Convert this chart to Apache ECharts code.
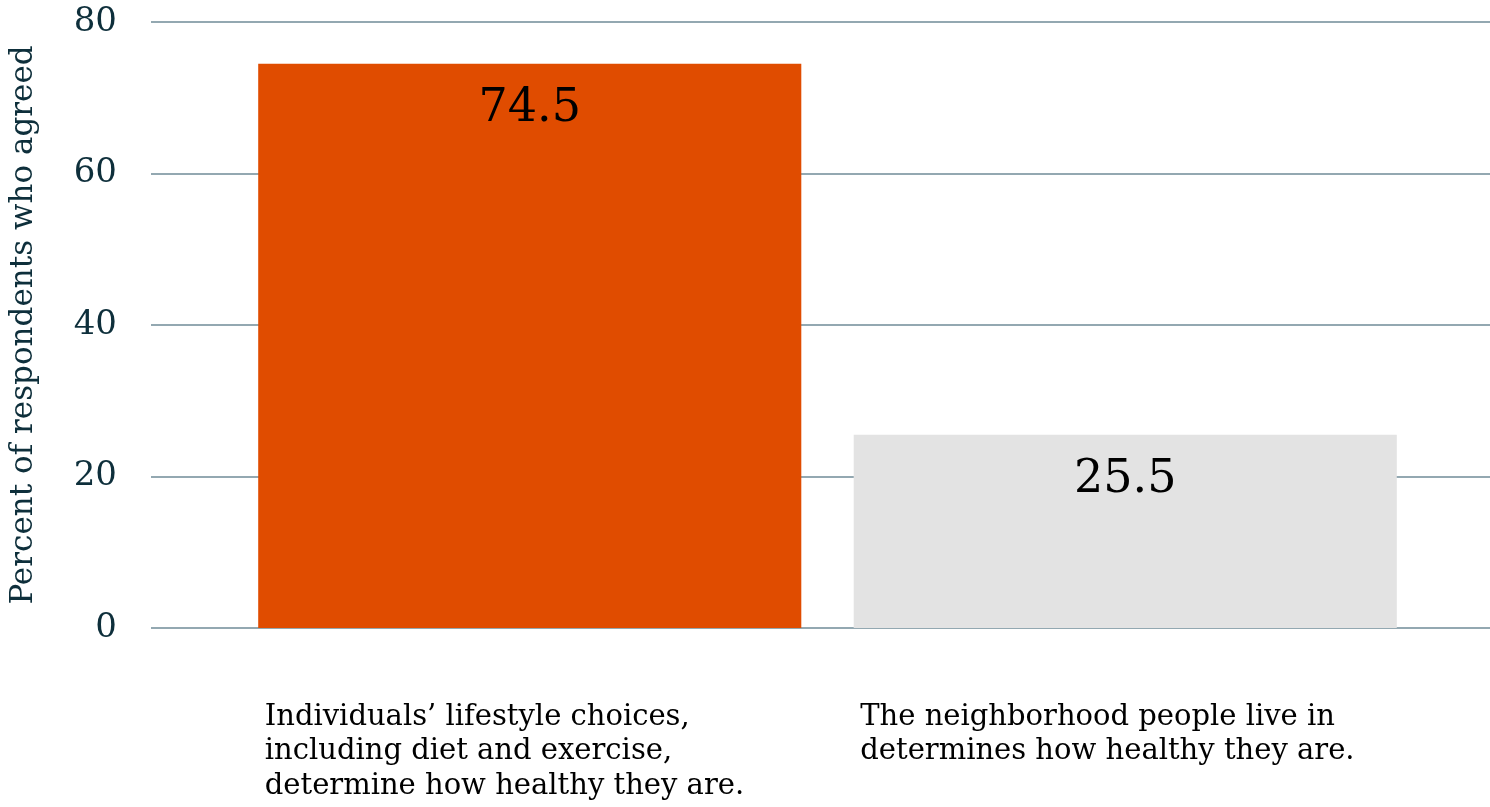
<!DOCTYPE html>
<html>
<head>
<meta charset="utf-8">
<script src="https://cdn.jsdelivr.net/npm/echarts@6/dist/echarts.min.js"></script>
<style>
  html, body { margin: 0; padding: 0; background: #fff; }
  #chart { width: 1490px; height: 807px; }
</style>
</head>
<body>
<div id="chart"></div>
<script>
// data
var categories = [
  "Individuals\u2019 lifestyle choices,\nincluding diet and exercise,\ndetermine how healthy they are.",
  "The neighborhood people live in\ndetermines how healthy they are."
];
var values = [74.5, 25.5];
var barColors = ["#e04c00", "#e3e3e3"];
var yTicks = [0, 20, 40, 60, 80];

var fontFam = "DejaVu Serif";
var inkColor = "#0e2f3b";

var chart = echarts.init(document.getElementById("chart"));

var option = {
  animation: false,
  grid: [
    // grid used only for the y axis and its lines across the full width
    { left: 150, right: 0, top: 22, bottom: 179 },
    // grid holding the bars
    { left: 232, right: 67, top: 22, bottom: 179 }
  ],
  xAxis: [
    { gridIndex: 0, type: "value", min: 0, max: 1, show: false },
    {
      gridIndex: 1,
      type: "category",
      data: categories,
      axisLine: { show: false },
      axisTick: { show: false },
      axisLabel: {
        margin: 72,
        interval: 0,
        formatter: function (v) {
          return v.split("\n").map(function (s) { return "{a|" + s + "}"; }).join("\n");
        },
        rich: {
          a: {
            width: 530,
            align: "left",
            fontFamily: fontFam,
            fontSize: 29,
            lineHeight: 34.5,
            color: "#000"
          }
        }
      }
    }
  ],
  yAxis: [
    {
      gridIndex: 0,
      type: "value",
      min: yTicks[0],
      max: yTicks[yTicks.length - 1],
      interval: 20,
      name: "Percent of respondents who agreed",
      nameLocation: "middle",
      nameGap: 112,
      nameTextStyle: { fontFamily: fontFam, fontSize: 31, color: inkColor },
      axisLine: { show: false },
      axisTick: { show: false },
      axisLabel: { margin: 34, fontFamily: fontFam, fontSize: 34, color: inkColor },
      splitLine: { lineStyle: { color: "#6f8b97", width: 1.5 } }
    },
    {
      gridIndex: 1,
      type: "value",
      min: 0,
      max: 80,
      show: false
    }
  ],
  series: [
    {
      type: "bar",
      xAxisIndex: 1,
      yAxisIndex: 1,
      barWidth: "91.2%",
      data: values.map(function (v, i) {
        return { value: v, itemStyle: { color: barColors[i] } };
      }),
      label: {
        show: true,
        position: "insideTop",
        distance: 22,
        fontFamily: fontFam,
        fontSize: 46,
        color: "#000"
      }
    }
  ]
};

chart.setOption(option);
</script>
</body>
</html>
